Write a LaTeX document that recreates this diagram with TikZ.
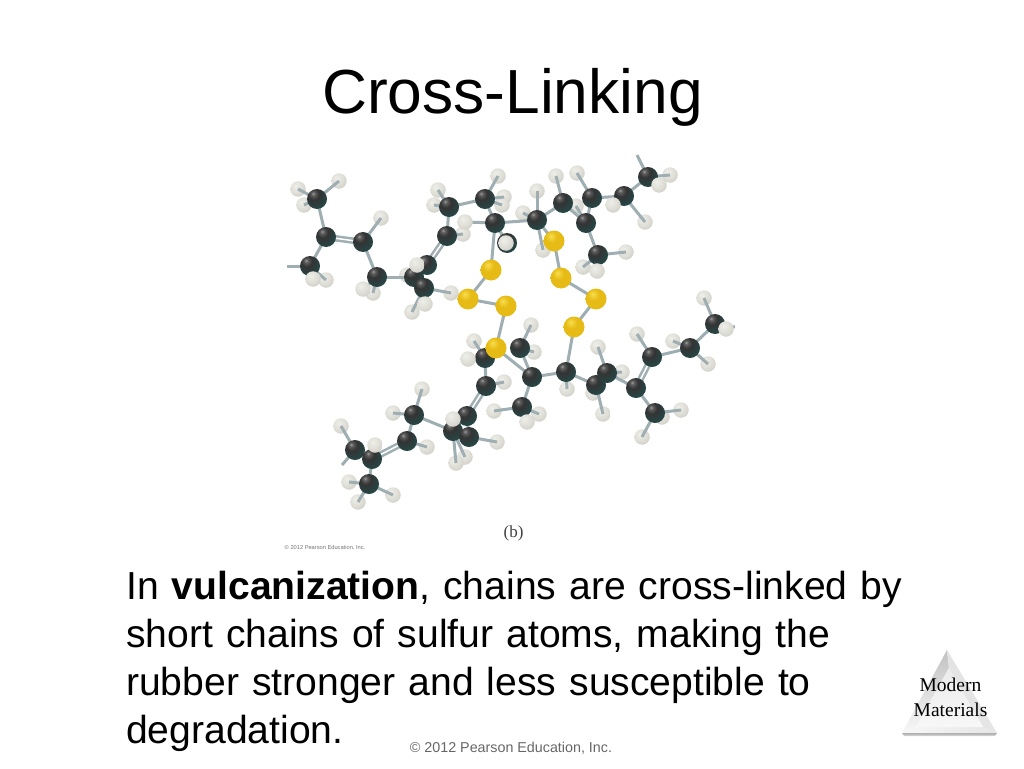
\documentclass[tikz,border=0pt]{standalone}
\usepackage{fontspec}
\setmainfont{Liberation Sans}
\newfontfamily\serifface{Liberation Serif}
\usetikzlibrary{shadings,fadings}
\pgfdeclareradialshading{carbonball}{\pgfpoint{-10bp}{14bp}}{
 color(0bp)=(white!62!black); color(5bp)=(white!36!black); color(14bp)=(white!20!black);
 color(34bp)=(black!85!cyan!85!white); color(50bp)=(black!90); color(70bp)=(black!95); color(100bp)=(black)}
\definecolor{hbright}{HTML}{EFEFE9}
\definecolor{hmid}{HTML}{DDDDD6}
\definecolor{hedge}{HTML}{BDBDB6}
\pgfdeclareradialshading{hball}{\pgfpoint{-8bp}{10bp}}{
 color(0bp)=(hbright); color(22bp)=(hmid); color(50bp)=(hedge); color(70bp)=(hedge); color(100bp)=(hedge)}
\definecolor{sbright}{HTML}{F8DE4E}
\definecolor{smid}{HTML}{E6BB16}
\definecolor{sedge}{HTML}{C89C10}
\pgfdeclareradialshading{sball}{\pgfpoint{-8bp}{12bp}}{
 color(0bp)=(sbright); color(14bp)=(smid); color(42bp)=(smid); color(62bp)=(sedge); color(100bp)=(sedge)}
\definecolor{bondcol}{HTML}{9FAEB2}
\pgfdeclarelayer{backh}
\pgfdeclarelayer{bonds}
\pgfdeclarelayer{fronth}
\pgfsetlayers{backh,bonds,main,fronth}
\tikzset{
 carbon/.style={circle,minimum size=20pt,inner sep=0pt,shading=carbonball},
 sulfur/.style={circle,minimum size=21pt,inner sep=0pt,shading=sball},
 hydrogen/.style={circle,minimum size=15.5pt,inner sep=0pt,shading=hball},
 bond/.style={draw=bondcol,line width=3pt},
 dbond/.style={draw=bondcol,line width=6.5pt,postaction={draw=white,line width=1.5pt}},
 title/.style={font=\fontsize{62.3}{70}\selectfont,anchor=base},
 bodytext/.style={font=\fontsize{39.1}{48}\selectfont,anchor=north west,align=left,inner sep=0pt,text width=850pt},
 tag/.style={font=\serifface\fontsize{19.5}{25}\selectfont,align=center,inner sep=0pt},
}
\begin{document}
\begin{tikzpicture}[x=1pt,y=-1pt]
\useasboundingbox (0,0) rectangle (1024,768);
\node[title] (ttl) at (512.5,113) {Cross-Linking};
% carbons
\foreach \n/\x/\y in {a1/317/199,a2/326/237,a3/310/266,a4/363/242,a5/377/277,a6/414/277,a7/427/265,a8/424/288,a9/447/236,a10/449/207,a11/485/199,a12/495/223,a13/507/243,a14/537/220,a15/563/203,a16/592/198,a17/586/223,a18/598/255,a19/624/196,a20/648/177,
 b1/485/358,b2/486/386,b3/520/348,b4/532/377,b5/522/407,b6/566/372,b7/467/416,b8/453/431,b9/469/437,b10/414/415,b11/407/441,b12/355/450,b13/372/459,b14/369/484,b15/596/385,b16/607/373,b17/636/388,b18/652/357,b19/690/348,b20/715/324,b21/655/413}
 {\node[carbon] (\n) at (\x,\y) {};}
% sulfurs
\foreach \n/\x/\y in {s1/491/270,s2/468/299,s3/506/306,s4/496/348,s5/554/241,s6/561/278,s7/596/299,s8/574/327}
 {\node[sulfur] (\n) at (\x,\y) {};}
% free bond ends
\coordinate (p1) at (287,266);
\coordinate (p2) at (637,155);
\coordinate (p3) at (342,465);
\coordinate (p4) at (735,327);
% hydrogens behind
\foreach \n/\x/\y/\p in {h1/298/189/a1,h2/339/181/a1,h3/304/205/a1,h4/381/218/a4,h6/326/280/a3,h8/373/293/a5,h9/412/312/a8,h11/451/293/a8,h12/463/234/a9,h14/438/190/a10,h15/434/205/a10,h16/498/176/a11,h17/504/197/a11,h18/502/205/a11,h21/407/275/a6,
 h22/556/176/a15,h23/577/173/a16,h24/537/191/a14,h25/523/213/a14,h26/543/250/a14,h27/576/206/a17,h29/645/222/a19,h30/626/252/a18,h31/583/267/a18,
 h33/670/175/a20,h35/531/325/b3,h36/474/341/b1,h38/534/352/b3,h39/504/382/b2,h40/494/411/b5,h41/539/414/b5,h43/567/389/b6,h45/497/442/b9,h46/465/457/b8,h47/456/463/b8,h48/422/389/b10,h49/393/413/b10,h50/427/447/b11,h51/341/426/b12,h53/349/482/b14,h54/358/502/b14,h55/393/495/b14,
 h56/598/347/b16,h57/622/372/b16,h58/593/393/b15,h59/603/414/b15,h60/637/334/b18,h61/673/341/b19,h62/708/364/b19,h63/704/298/b20,h65/681/410/b21,h66/642/437/b21,h67/662/417/b21}
 {\begin{pgfonlayer}{backh}\node[hydrogen] (\n) at (\x,\y) {};\end{pgfonlayer}
  \begin{pgfonlayer}{bonds}\draw[bond] (\n.center) -- (\p.center);\end{pgfonlayer}}
% hydrogens in front
\foreach \n/\x/\y/\p in {h5/313/279/a3,h7/363/289/a5,h10/425/304/a8,h13/465/222/a12,h19/417/265/a6,h20/506/243/a13,h28/613/205/a19,h32/597/271/a18,h34/659/185/a20,h37/468/359/b1,h42/527/422/b5,h44/453/419/b8,h52/375/445/b13,h64/726/329/b20}
 {\begin{pgfonlayer}{fronth}\node[hydrogen] (\n) at (\x,\y) {};\end{pgfonlayer}
  \begin{pgfonlayer}{bonds}\draw[bond] (\n.center) -- (\p.center);\end{pgfonlayer}}
% skeleton
\begin{pgfonlayer}{bonds}
\foreach \u/\v in {a1/a2,a2/a3,a3/p1,a4/a5,a5/a6,a6/a8,a6/a7,a9/a10,a10/a11,a11/a12,a12/a13,a12/a14,a14/a15,a15/a17,a17/a16,a16/a19,a19/a20,a20/p2,a17/a18,a12/s1,a14/s5,
 s1/s2,s2/s3,s3/s4,s5/s6,s6/s7,s7/s8,s8/b6,s4/b4,b1/b2,b7/b9,b7/b8,b8/b10,b10/b11,b13/b12,b13/b14,b12/p3,b3/b4,b4/b5,b4/b6,b6/b15,b15/b16,b16/b17,b18/b19,b19/b20,b20/p4,b17/b21}
 {\draw[bond] (\u.center) -- (\v.center);}
\foreach \u/\v in {a2/a4,a7/a9,b2/b7,b11/b13,b17/b18}
 {\draw[dbond] (\u.center) -- (\v.center);}
\end{pgfonlayer}
\node[font=\serifface\fontsize{17}{20}\selectfont,text=black!75,inner sep=0pt] (bl) at (513.5,533) {(b)};
\node[font=\fontsize{5.7}{6}\selectfont,text=black!55,inner sep=0pt] (cr1) at (325,548) {© 2012 Pearson Education, Inc.};
\node[bodytext] (body) at (126,571) {In \textbf{vulcanization}, chains are cross-linked by\\short chains of sulfur atoms, making the\\rubber stronger and less susceptible to\\degradation.};
\node[font=\fontsize{14.3}{16}\selectfont,text=black!60,inner sep=0pt] (cr2) at (511,748) {© 2012 Pearson Education, Inc.};
% triangle emblem
\coordinate (tA) at (947,650);
\coordinate (tL) at (902,733);
\coordinate (tR) at (997,733);
\coordinate (iA) at (949,668);
\coordinate (iL) at (916,727);
\coordinate (iR) at (983,727);
\shade[top color=black!34,bottom color=black!12] (tL) -- (tR) -- ++(-2,3) -- ++(-91,0) -- cycle;
\shade[top color=black!24,bottom color=black!3] (tA) -- (iA) -- (iL) -- (tL) -- cycle;
\shade[top color=black!11,bottom color=black!10] (tA) -- (tR) -- (iR) -- (iA) -- cycle;
\shade[left color=black!3,right color=black!10] (tL) -- (iL) -- (iR) -- (tR) -- cycle;
\shade[top color=black!8,bottom color=black!3] (iA) -- (iR) -- (iL) -- cycle;
\node[tag] (mm) at (950.5,697.5) {Modern\\Materials};
\end{tikzpicture}
\end{document}
